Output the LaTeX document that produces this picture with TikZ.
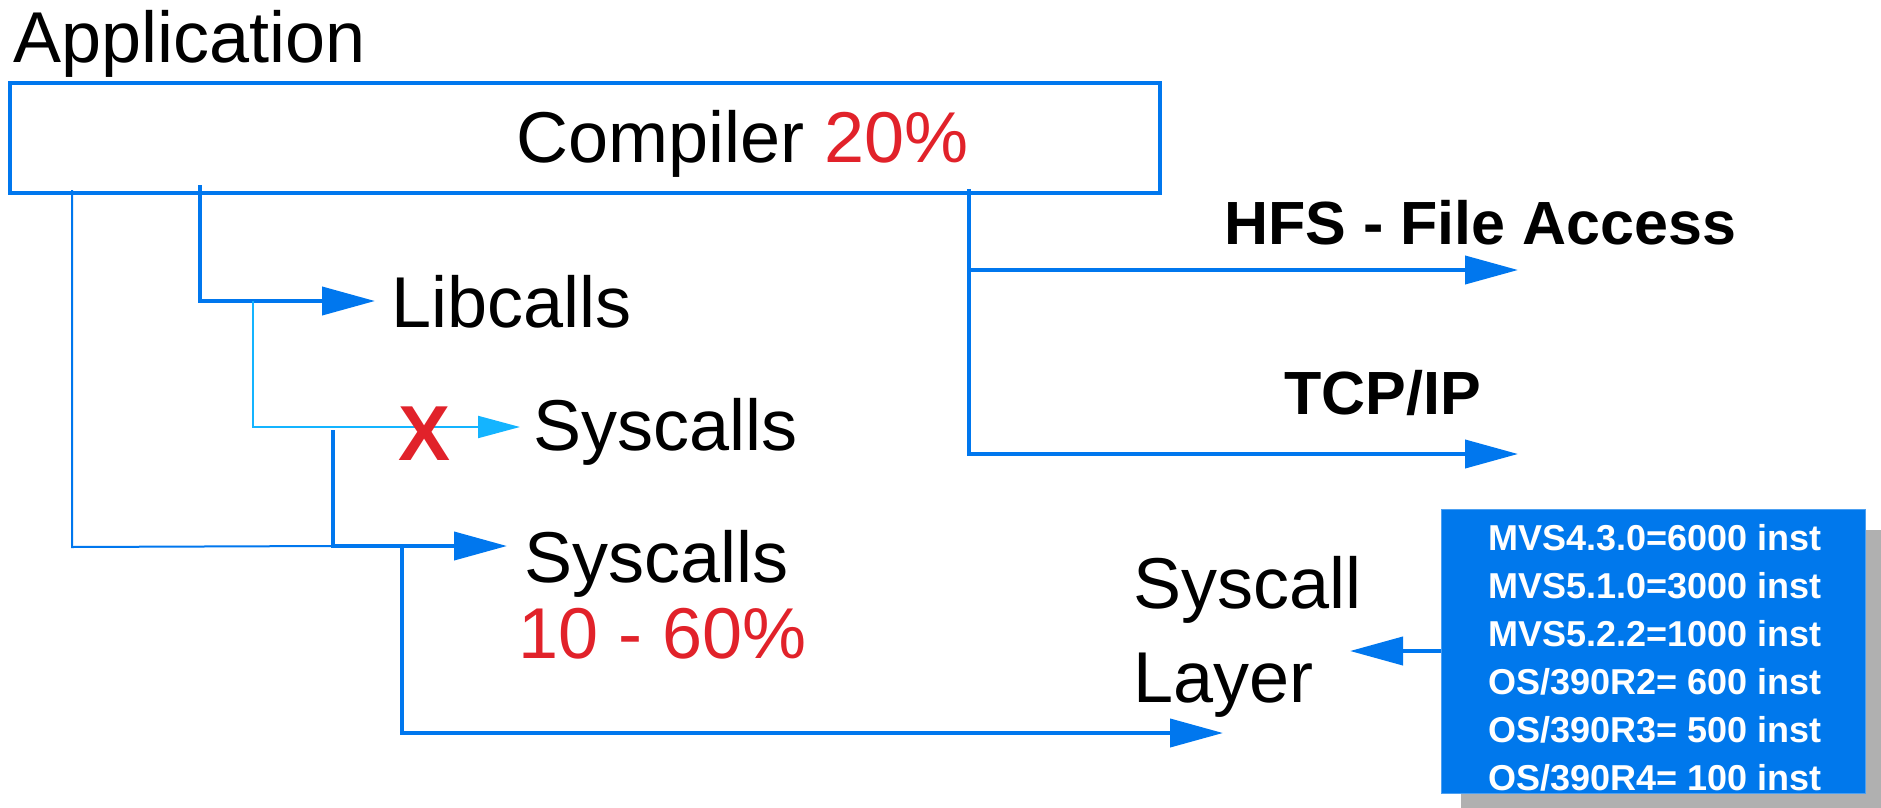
\documentclass[tikz,border=0pt]{standalone}
\usepackage{fontspec}
\setmainfont{Liberation Sans}
\usetikzlibrary{arrows.meta}

\definecolor{linkblue}{HTML}{0077EE}
\definecolor{skyblue}{HTML}{14B4FF}
\definecolor{hotred}{HTML}{E1222A}
\definecolor{shadowgrey}{HTML}{B0B0B0}
\definecolor{panelblue}{HTML}{0078EC}

\begin{document}
\begin{tikzpicture}[x=1pt,y=-1pt,
  big/.style={font=\fontsize{72}{86}\selectfont, inner sep=0pt, anchor=base west},
  bigbold/.style={font=\fontsize{61}{72}\selectfont\bfseries, inner sep=0pt, anchor=base west},
  rowtext/.style={font=\fontsize{36}{48}\selectfont\bfseries, text=white, inner sep=0pt, anchor=base west},
  wire/.style={draw=linkblue, line width=4pt},
  thinwire/.style={draw=linkblue, line width=2pt},
  tip/.style={-{Triangle[length=53pt,width=28pt]}},
  smalltip/.style={-{Triangle[length=42pt,width=22pt]}}
]
\clip (0,0) rectangle (1881,808);

% header and the compiler box
\node[big] (app) at (13,63) {Application};
\node[draw=linkblue, line width=4pt, minimum width=1150pt, minimum height=110pt,
      inner sep=0pt, outer sep=0pt] (comp) at (585,138) {};
\node[big] (compl) at (516,162) {Compiler \textcolor{hotred}{20\%}};

% targets
\node[big] (lib) at (391,327) {Libcalls};
\node[big] (sys1) at (533,450) {Syscalls};
\node[big] (sys2) at (524,582) {Syscalls};
\node[big, text=hotred] (pct) at (518,658) {10 - 60\%};
\node[big] (layer1) at (1133,608) {Syscall};
\node[big] (layer2) at (1133,702) {Layer};
\node[bigbold] (hfs) at (1224,244) {HFS - File Access};
\node[bigbold] (tcp) at (1284,414) {TCP/IP};

% instruction-count panel with drop shadow
\fill[shadowgrey] (1461,530) rectangle (1900,830);
\node[fill=panelblue, draw=panelblue!70!white, line width=1pt, minimum width=424pt,
      minimum height=284pt, inner sep=0pt, outer sep=0pt] (panel) at (1653,651) {};
\foreach \i/\t in {1/{MVS4.3.0=6000 inst},2/{MVS5.1.0=3000 inst},3/{MVS5.2.2=1000 inst},
                   4/{OS/390R2= 600 inst},5/{OS/390R3= 500 inst},6/{OS/390R4= 100 inst}}
  \node[rowtext] (row\i) at (1488,{550+48*(\i-1)}) {\t};

% branch points
\coordinate (ltop) at (72,190);
\coordinate (lbot) at (72,547);
\coordinate (mtop) at (200,185);
\coordinate (libtip) at (375,301);
\coordinate (ctop) at (253,301);
\coordinate (systip) at (520,427);
\coordinate (stop) at (333,430);
\coordinate (sjoin) at (333,546);
\coordinate (sys2tip) at (507,546);
\coordinate (dtop) at (402,546);
\coordinate (layertip) at (1223,733);
\coordinate (rtop) at (969,189);
\coordinate (hfstip) at (1518,270);
\coordinate (tcptip) at (1518,454);
\coordinate (paneltip) at (1350,651);

% connectors
\draw[thinwire] (ltop) -- (lbot) -- (sjoin);
\draw[wire,tip] (mtop) |- (libtip);
\draw[draw=skyblue, line width=2pt, smalltip] (ctop) |- (systip);
\draw[wire,tip] (stop) |- (sys2tip);
\draw[wire,tip] (dtop) |- (layertip);
\draw[wire,tip] (rtop) |- (hfstip);
\draw[wire,tip] (rtop) |- (tcptip);
\draw[wire,tip] (panel.west) -- (paneltip);

% the blocked path is struck through
\node[font=\fontsize{78}{90}\selectfont\bfseries, text=hotred, inner sep=0pt] (cross) at (425,434) {X};
\end{tikzpicture}
\end{document}
